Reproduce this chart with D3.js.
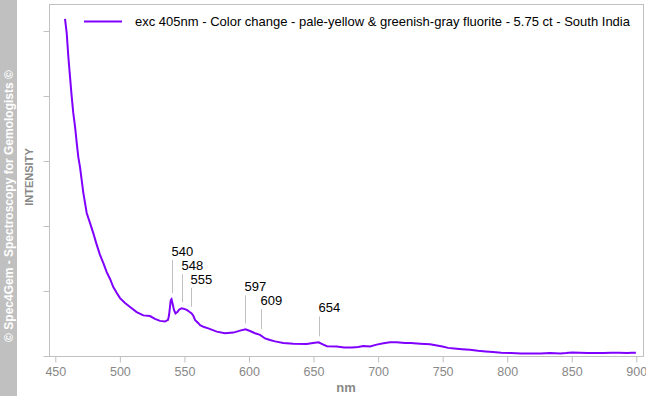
<!DOCTYPE html>
<html><head>
<meta charset="utf-8">
<style>
body { margin: 0; background: #fff; }
svg { display: block; font-family: "Liberation Sans", Arial, sans-serif; }
.frame { fill: none; stroke: #c0c0c0; }
.axis line, .axis path { stroke: #c0c0c0; }
.axis text { fill: #888; font-size: 12.5px; }
</style>
</head><body>
<svg width="646" height="396"></svg>
<script src="https://d3js.org/d3.v7.min.js"></script>
<script>

// spectrum (nm, relative intensity)
var wavelength = [457.5, 458.8, 460.1, 461.4, 462.7, 463.9, 465.3, 466.6, 467.8, 469.1,
  470.4, 471.7, 473.0, 474.3, 476.9, 479.4, 482.1, 484.6, 487.2, 489.8,
  492.4, 494.9, 497.6, 500.1, 504.0, 507.9, 513.0, 518.2, 523.3, 527.2,
  531.1, 534.9, 537.3, 538.1, 539.4, 540.0, 540.9, 541.9, 543.1, 544.5,
  546.0, 547.9, 549.7, 551.8, 553.8, 555.6, 557.0, 558.2, 560.8, 562.1,
  565.2, 568.5, 575.0, 581.4, 587.9, 593.1, 597.3, 600.8, 604.7, 608.6,
  612.4, 616.3, 620.2, 626.6, 634.3, 644.7, 649.6, 653.9, 657.6, 660.4,
  668.0, 673.6, 679.8, 684.5, 688.7, 693.7, 698.9, 704.2, 709.2, 714.3,
  720.9, 725.5, 732.5, 740.2, 745.6, 749.8, 754.2, 759.0, 765.0, 771.1,
  777.4, 783.3, 789.0, 795.4, 802.9, 810.7, 817.7, 825.9, 833.2, 841.1,
  845.5, 850.2, 856.4, 862.4, 868.0, 874.5, 880.4, 886.7, 892.8, 896.7, 899.7];
var intensity = [1.037, 0.994, 0.920, 0.858, 0.797, 0.748, 0.705, 0.655, 0.612, 0.582,
  0.542, 0.502, 0.471, 0.440, 0.409, 0.378, 0.342, 0.311, 0.286, 0.258,
  0.237, 0.212, 0.194, 0.178, 0.163, 0.151, 0.135, 0.125, 0.123, 0.114,
  0.108, 0.106, 0.111, 0.126, 0.172, 0.175, 0.160, 0.142, 0.131, 0.135,
  0.143, 0.147, 0.145, 0.142, 0.136, 0.131, 0.123, 0.111, 0.101, 0.095,
  0.089, 0.085, 0.075, 0.070, 0.072, 0.078, 0.082, 0.077, 0.070, 0.065,
  0.054, 0.049, 0.045, 0.040, 0.038, 0.037, 0.040, 0.042, 0.035, 0.030,
  0.029, 0.026, 0.026, 0.028, 0.031, 0.029, 0.035, 0.039, 0.042, 0.042,
  0.040, 0.040, 0.038, 0.036, 0.032, 0.029, 0.025, 0.023, 0.021, 0.019,
  0.016, 0.014, 0.012, 0.010, 0.009, 0.008, 0.008, 0.008, 0.009, 0.008,
  0.009, 0.011, 0.010, 0.009, 0.009, 0.009, 0.010, 0.010, 0.009, 0.010, 0.010];

var peakNm = [540, 548, 555, 597, 609, 654];
var peakLabels = ["540", "548", "555", "597", "609", "654"];
var xTicks = [450, 500, 550, 600, 650, 700, 750, 800, 850, 900];
var yTicks = [0, 0.2, 0.4, 0.6, 0.8, 1.0];
var seriesName = "exc 405nm - Color change - pale-yellow & greenish-gray fluorite - 5.75 ct - South India";

var svg = d3.select("svg");
var plot = {x0: 49, x1: 643, y0: 4, y1: 356};
var purple = "#8000ff";

var x = d3.scaleLinear().domain([445.1, 905.2]).range([plot.x0, plot.x1]);
var y = d3.scaleLinear().domain([0, 1.083]).range([plot.y1, plot.y0]);

// copyright strip
svg.append("rect").attr("x", 0).attr("y", 0).attr("width", 17).attr("height", 396).attr("fill", "#c0c0c0");
svg.append("text")
    .attr("transform", "translate(13,206) rotate(-90)")
    .attr("text-anchor", "middle")
    .attr("fill", "#fff")
    .style("font-size", "12px").style("font-weight", "bold")
    .text("© Spec4Gem - Spectroscopy for Gemologists ©");

svg.append("text")
    .attr("transform", "translate(33,177) rotate(-90)")
    .attr("text-anchor", "middle")
    .attr("fill", "#888")
    .style("font-size", "11px").style("font-weight", "bold")
    .text("INTENSITY");

svg.append("rect").attr("class", "frame")
    .attr("x", plot.x0 + 0.5).attr("y", plot.y0 + 0.5)
    .attr("width", plot.x1 - plot.x0).attr("height", plot.y1 - plot.y0);

svg.append("g")
    .attr("class", "axis")
    .attr("transform", "translate(0," + (plot.y1 + 0.5) + ")")
    .call(d3.axisBottom(x).tickValues(xTicks).tickSize(6).tickPadding(5).tickFormat(d3.format("d")))
    .call(function(g) { g.select(".domain").remove(); });

svg.append("g")
    .attr("class", "axis")
    .attr("transform", "translate(" + (plot.x0 + 0.5) + ",0)")
    .call(d3.axisLeft(y).tickValues(yTicks).tickSize(6).tickFormat(""))
    .call(function(g) { g.select(".domain").remove(); });

svg.append("text")
    .attr("x", (plot.x0 + plot.x1) / 2).attr("y", 392)
    .attr("text-anchor", "middle")
    .attr("fill", "#888")
    .style("font-size", "13px").style("font-weight", "bold")
    .text("nm");

var data = wavelength.map(function(d, i) { return [d, intensity[i]]; });

svg.append("path")
    .datum(data)
    .attr("fill", "none")
    .attr("stroke", purple)
    .attr("stroke-width", 2)
    .attr("d", d3.line().x(function(d) { return x(d[0]); }).y(function(d) { return y(d[1]); }));

// peak labels
var lead = [33, 28, 19, 28, 20, 20];
var bis = d3.bisector(function(d) { return d[0]; }).left;
function valueAt(n) {
  var i = bis(data, n);
  var a = data[i - 1], b = data[i];
  return a[1] + (b[1] - a[1]) * (n - a[0]) / (b[0] - a[0]);
}
peakNm.forEach(function(n, i) {
  var px = Math.round(x(n)) + 0.5;
  var yb = y(valueAt(n)) - 6;
  var yt = yb - lead[i];
  svg.append("line").attr("x1", px).attr("x2", px).attr("y1", yt).attr("y2", yb)
      .attr("stroke", "#c0c0c0");
  svg.append("text").attr("x", px - 1).attr("y", yt - 4)
      .attr("fill", "#000").style("font-size", "13px")
      .text(peakLabels[i]);
});

// legend
svg.append("line").attr("x1", 84).attr("x2", 122).attr("y1", 21.5).attr("y2", 21.5)
    .attr("stroke", purple).attr("stroke-width", 2);
svg.append("text").attr("x", 135).attr("y", 26)
    .attr("fill", "#000").style("font-size", "13px")
    .text(seriesName);

</script>
</body></html>
